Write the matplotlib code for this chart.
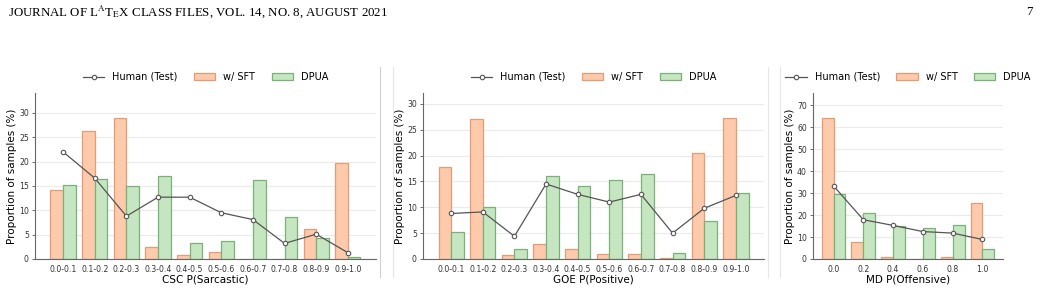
import numpy as np
import matplotlib
matplotlib.use("Agg")
import matplotlib.pyplot as plt
from matplotlib.lines import Line2D

# data
csc_bins = ["0.0-0.1", "0.1-0.2", "0.2-0.3", "0.3-0.4", "0.4-0.5",
            "0.5-0.6", "0.6-0.7", "0.7-0.8", "0.8-0.9", "0.9-1.0"]
csc_sft = [14.1, 26.3, 28.9, 2.4, 0.9, 1.5, 0.0, 0.0, 6.1, 19.7]
csc_dpua = [15.3, 16.4, 15.0, 17.0, 3.2, 3.6, 16.3, 8.7, 4.3, 0.4]
csc_human = [22.0, 16.6, 8.8, 12.7, 12.7, 9.5, 8.1, 3.2, 5.1, 1.3]

goe_bins = csc_bins
goe_sft = [17.7, 27.0, 0.8, 2.9, 1.9, 1.0, 1.0, 0.2, 20.5, 27.2]
goe_dpua = [5.3, 10.0, 1.9, 16.0, 14.1, 15.2, 16.4, 1.2, 7.3, 12.7]
goe_human = [8.8, 9.1, 4.4, 14.5, 12.5, 11.0, 12.5, 5.0, 9.8, 12.3]

md_bins = ["0.0", "0.2", "0.4", "0.6", "0.8", "1.0"]
md_sft = [64.1, 7.8, 0.9, 0.1, 1.1, 25.7]
md_dpua = [29.4, 21.1, 15.1, 14.2, 15.3, 4.6]
md_human = [33.3, 17.9, 15.3, 12.5, 11.8, 8.9]

panels = [
    ("CSC P(Sarcastic)", csc_bins, csc_sft, csc_dpua, csc_human),
    ("GOE P(Positive)", goe_bins, goe_sft, goe_dpua, goe_human),
    ("MD P(Offensive)", md_bins, md_sft, md_dpua, md_human),
]

sft_face, sft_edge = "#fdcaab", "#e59c76"
dpua_face, dpua_edge = "#c5e6c0", "#7cb079"
human_c = "#555555"

fig = plt.figure(figsize=(10.41, 2.92), dpi=100)
W, H = 1041, 292
boxes = [(35, 376), (423, 764), (813, 1003)]
top_px, bot_px = 93, 259

for (xlab, bins, sft, dpua, human), (l, r) in zip(panels, boxes):
    ax = fig.add_axes([l / W, 1 - bot_px / H, (r - l) / W, (bot_px - top_px) / H])
    x = np.arange(len(bins))
    w = 0.4
    b1 = ax.bar(x - w / 2, sft, w, color=sft_face, edgecolor=sft_edge, linewidth=0.9,
                zorder=2)
    b2 = ax.bar(x + w / 2, dpua, w, color=dpua_face, edgecolor=dpua_edge, linewidth=0.9,
                zorder=2)
    ln, = ax.plot(x, human, color=human_c, lw=0.9, marker="o", ms=3.2,
                  mfc="white", mec=human_c, mew=0.8, zorder=3)
    ax.set_ylim(0, max(sft) * 1.18)
    m = 0.89 if len(bins) == 10 else 0.69
    ax.set_xlim(-m, len(bins) - 1 + m)
    ax.set_xticks(x)
    ax.set_xticklabels(bins)
    ax.tick_params(axis="x", labelsize=5.6, length=0, pad=4, labelcolor="#333333")
    ax.tick_params(axis="y", labelsize=5.6, length=2.5, width=0.6, color="#555555",
                   labelcolor="#333333", pad=2)
    ax.grid(axis="y", color="#ebebeb", lw=0.8)
    ax.set_axisbelow(True)
    for s in ["top", "right"]:
        ax.spines[s].set_visible(False)
    for s in ["left", "bottom"]:
        ax.spines[s].set_color("#666666")
        ax.spines[s].set_linewidth(0.8)
    ax.set_xlabel(xlab, fontsize=7.5, labelpad=1)
    ax.set_ylabel("Proportion of samples (%)", fontsize=7.5, labelpad=1)
    ax.legend([ln, b1, b2], ["Human (Test)", "w/ SFT", "DPUA"], loc="center",
              bbox_to_anchor=(0.5, 1 + (93 - 77) / (bot_px - top_px)), ncol=3,
              frameon=False, fontsize=7, handlelength=2.2, columnspacing=1.7,
              handletextpad=0.8)

# separators between sub-figures
for xp, c in [(380, "#cfcfcf"), (393, "#e6e6e6"), (768, "#e6e6e6"), (780, "#e6e6e6")]:
    fig.add_artist(Line2D([xp / W, xp / W], [1 - 67 / H, 1 - 277 / H],
                          color=c, lw=0.8))

# page header
plt.rcParams["mathtext.fontset"] = "stix"
fig.text(8 / W, 1 - 12 / H,
         r"JOURNAL OF L$^{\mathrm{A}}$T$_{\mathrm{E}}$X CLASS FILES, VOL. 14, NO. 8, AUGUST 2021",
         family="Liberation Serif", fontsize=9.3, va="center", ha="left")
fig.text(1033 / W, 1 - 12 / H, "7", family="Liberation Serif", fontsize=9.3,
         va="center", ha="right")

fig.savefig("out.png", dpi=100, facecolor="white")
